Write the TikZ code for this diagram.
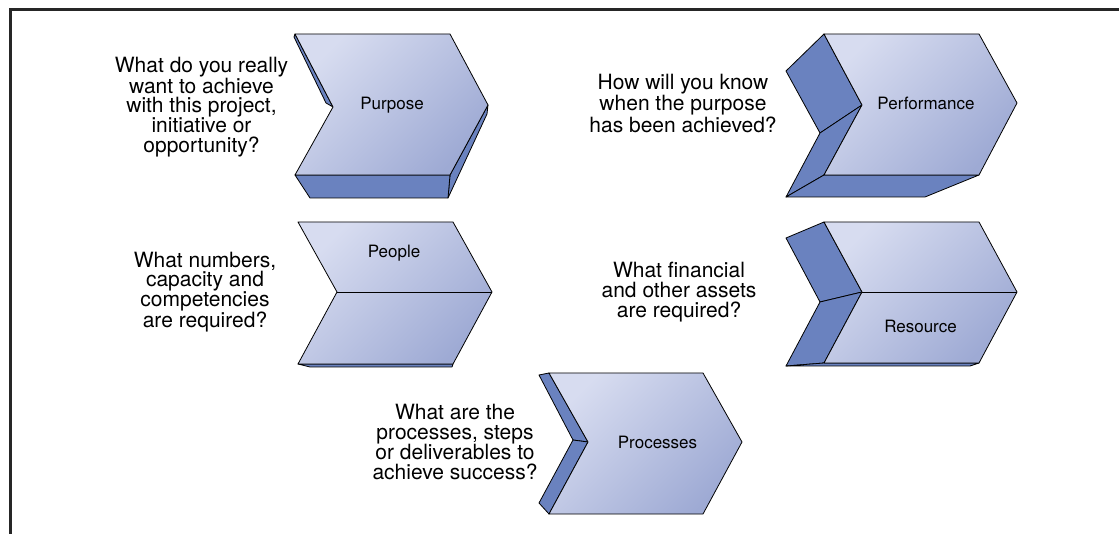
\documentclass[tikz,border=0pt]{standalone}
\usepackage{fontspec}
\setmainfont{TeX Gyre Heros}
\definecolor{sideblue}{HTML}{6A82BF}
\definecolor{facetop}{HTML}{D7DCF0}
\definecolor{facebot}{HTML}{9EAAD4}

\begin{document}
\begin{tikzpicture}[x=1pt,y=-1pt,
  side/.style={fill=sideblue,draw=black,line width=.8pt,line join=round},
  face/.style={draw=black,line width=.8pt,line join=round,top color=facetop,bottom color=facebot,shading angle=45},
  ask/.style={align=center,inner sep=0pt,font=\fontsize{21}{19.7}\selectfont},
  tag/.style={inner sep=0pt,font=\fontsize{17}{20}\selectfont}]
\useasboundingbox(0,0)rectangle(1119,534);
\fill[white](0,0)rectangle(1119,534);
\draw[line width=3pt,black!85](10.5,534)--(10.5,9.5)--(1119,9.5);
% purpose
\begin{scope}
\coordinate(tl)at(295,34);\coordinate(tr)at(450,34);\coordinate(tp)at(488,105);\coordinate(br)at(450,175);\coordinate(bl)at(295,175);\coordinate(nt)at(333,107);
\coordinate(tl2)at(294,37);\coordinate(nt2)at(326,103);\coordinate(tp2)at(487,114);\coordinate(br2)at(448,198);\coordinate(bl2)at(310,198);
\draw[side](tl)--(nt)--(nt2)--(tl2)--cycle;
\draw[side](tp)--(tp2)--(br2)--(br)--cycle;
\draw[side](bl)--(br)--(br2)--(bl2)--cycle;
\draw[face](tl)--(tr)--(tp)--(br)--(bl)--(nt)--cycle;
\node[tag](purpose)at(392,105){Purpose};
\end{scope}
\node[ask](purposeq)at(201.5,107){What do you really\\want to achieve\\with this project,\\initiative or\\opportunity?};
% performance
\begin{scope}
\coordinate(tl)at(824,34);\coordinate(tr)at(979,34);\coordinate(tp)at(1017,103);\coordinate(br)at(979,175);\coordinate(bl)at(824,175);\coordinate(nt)at(862,105);
\coordinate(tl2)at(786,71);\coordinate(nt2)at(820,133);\coordinate(bl2)at(786,197);\coordinate(br2)at(925,197);
\draw[side](tl)--(tl2)--(nt2)--(nt)--cycle;
\draw[side](nt)--(nt2)--(bl2)--(bl)--cycle;
\draw[side](bl)--(br)--(br2)--(bl2)--cycle;
\draw[face](tl)--(tr)--(tp)--(br)--(bl)--(nt)--cycle;
\node[tag](performance)at(926,103){Performance};
\end{scope}
\node[ask](performanceq)at(683,103.5){How will you know\\when the purpose\\has been achieved?};
% people
\begin{scope}
\coordinate(tl)at(298,222);\coordinate(tr)at(453,222);\coordinate(tp)at(492,292);\coordinate(br)at(453,364);\coordinate(bl)at(298,364);\coordinate(nt)at(337,292);
\coordinate(bl2)at(310,367);\coordinate(br2)at(452,367);
\draw[side](bl)--(br)--(br2)--(bl2)--cycle;
\draw[face](tl)--(tr)--(tp)--(br)--(bl)--(nt)--cycle;
\draw[line width=.8pt](nt)--(tp);
\node[tag](people)at(394,253){People};
\end{scope}
\node[ask](peopleq)at(205,292){What numbers,\\capacity and\\competencies\\are required?};
% resource
\begin{scope}
\coordinate(tl)at(824,222);\coordinate(tr)at(979,222);\coordinate(tp)at(1017,292);\coordinate(br)at(979,363);\coordinate(bl)at(824,363);\coordinate(nt)at(862,292);
\coordinate(tl2)at(786,238);\coordinate(nt2)at(820,302);\coordinate(bl2)at(786,366);\coordinate(br2)at(970,366);
\draw[side](tl)--(tl2)--(nt2)--(nt)--cycle;
\draw[side](nt)--(nt2)--(bl2)--(bl)--cycle;
\draw[side](bl)--(br)--(br2)--(bl2)--cycle;
\draw[face](tl)--(tr)--(tp)--(br)--(bl)--(nt)--cycle;
\draw[line width=.8pt](nt)--(tp);
\node[tag](resource)at(920.5,326){Resource};
\end{scope}
\node[ask](resourceq)at(679,292){What financial\\and other assets\\are required?};
% processes
\begin{scope}
\coordinate(tl)at(549,373);\coordinate(tr)at(703,373);\coordinate(tp)at(742,442);\coordinate(br)at(703,514);\coordinate(bl)at(549,514);\coordinate(nt)at(588,442);
\coordinate(tl2)at(539,375);\coordinate(nt2)at(573,440);\coordinate(bl2)at(539,503);
\draw[side](tl)--(tl2)--(nt2)--(nt)--cycle;
\draw[side](nt)--(nt2)--(bl2)--(bl)--cycle;
\draw[face](tl)--(tr)--(tp)--(br)--(bl)--(nt)--cycle;
\node[tag](processes)at(657.5,442){Processes};
\end{scope}
\node[ask](processesq)at(455,442){What are the\\processes, steps\\or deliverables to\\achieve success?};
\end{tikzpicture}
\end{document}
